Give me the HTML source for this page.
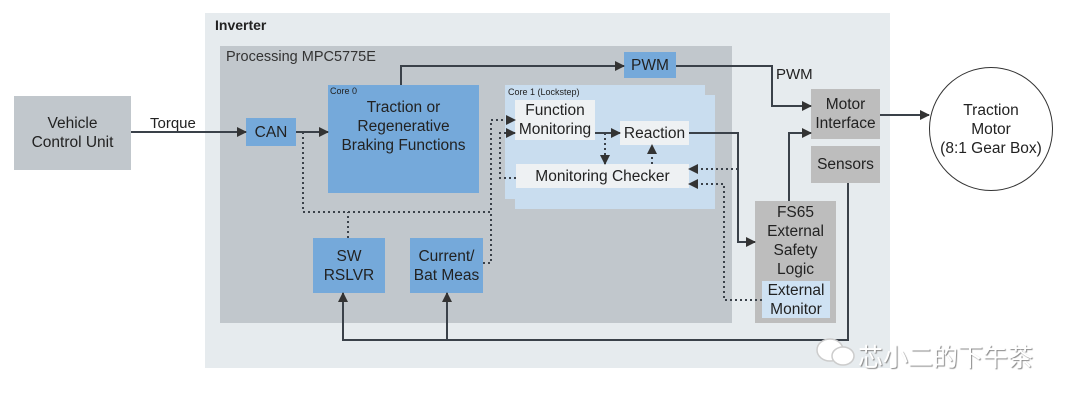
<!DOCTYPE html>
<html><head><meta charset="utf-8"><style>
body{margin:0;background:#fff;width:1080px;height:402px;position:relative;overflow:hidden;font-family:"Liberation Sans",Arial,sans-serif;color:#222}
.b{position:absolute;box-sizing:border-box;display:flex;align-items:center;justify-content:center;text-align:center;font-size:15.5px;line-height:19px}
</style></head><body>
<div class="b" style="left:205px;top:13px;width:685px;height:355px;background:#e6ebee"></div>
<div style="position:absolute;left:215px;top:17px;font-weight:bold;font-size:14px">Inverter</div>
<div class="b" style="left:220px;top:46px;width:512px;height:277px;background:#c1c7cc"></div>
<div style="position:absolute;left:226px;top:49px;font-size:14.5px;color:#333">Processing MPC5775E</div>
<div class="b" style="left:14px;top:96px;width:117px;height:74px;background:#c1c7cc">Vehicle<br>Control Unit</div>
<div class="b" style="left:246px;top:118px;width:50px;height:28px;background:#75a9da">CAN</div>
<div class="b" style="left:328px;top:85px;width:151px;height:108px;background:#75a9da;align-items:flex-start;padding-top:13px">Traction or<br>Regenerative<br>Braking Functions</div>
<div style="position:absolute;left:330px;top:86px;font-size:9px">Core 0</div>
<div class="b" style="left:313px;top:238px;width:72px;height:55px;background:#75a9da">SW<br>RSLVR</div>
<div class="b" style="left:410px;top:238px;width:73px;height:55px;background:#75a9da">Current/<br>Bat Meas</div>
<div class="b" style="left:624px;top:52px;width:52px;height:26px;background:#75a9da">PWM</div>
<div class="b" style="left:515px;top:95px;width:200px;height:114px;background:#c9ddef"></div>
<div class="b" style="left:505px;top:85px;width:200px;height:114px;background:#c9ddef"></div>
<div style="position:absolute;left:508px;top:87px;font-size:9px">Core 1 (Lockstep)</div>
<div class="b" style="left:515px;top:100px;width:80px;height:40px;background:#eef1f3">Function<br>Monitoring</div>
<div class="b" style="left:620px;top:121px;width:69px;height:24px;background:#eef1f3">Reaction</div>
<div class="b" style="left:516px;top:164px;width:173px;height:24px;background:#eef1f3">Monitoring Checker</div>
<div class="b" style="left:811px;top:89px;width:69px;height:50px;background:#bdbdbd">Motor<br>Interface</div>
<div class="b" style="left:811px;top:146px;width:69px;height:37px;background:#bdbdbd">Sensors</div>
<div class="b" style="left:755px;top:201px;width:81px;height:122px;background:#bdbdbd;align-items:flex-start;padding-top:2px">FS65<br>External<br>Safety<br>Logic</div>
<div class="b" style="left:762px;top:281px;width:68px;height:37px;background:#cfe2f3">External<br>Monitor</div>
<div class="b" style="left:929px;top:67px;width:124px;height:124px;border:1.5px solid #333;border-radius:50%;background:#fff">Traction<br>Motor<br>(8:1 Gear Box)</div>
<div style="position:absolute;left:150px;top:115px;font-size:15px">Torque</div>
<div style="position:absolute;left:776px;top:66px;font-size:15px">PWM</div>
<svg width="1080" height="402" style="position:absolute;left:0;top:0">
<defs><marker id="a" markerWidth="10" markerHeight="10" refX="9" refY="5" orient="auto" markerUnits="userSpaceOnUse"><path d="M0,0L10,5L0,10z" fill="#333"/></marker></defs>
<g fill="none" stroke="#3a4149" stroke-width="2" marker-end="url(#a)">
<path d="M131,132H246"/><path d="M296,132H328"/>
<path d="M401,85V66H624"/><path d="M676,66H772V106H811"/>
<path d="M689,133H738V242H755"/><path d="M789,201V133H811"/>
<path d="M880,115H929"/><path d="M595,133H620"/>
<path d="M848,183V340H343V293"/><path d="M447,340V293"/>
</g>
<g fill="none" stroke="#3a4149" stroke-width="2" stroke-dasharray="2,3" marker-end="url(#a)">
<path d="M303,132V212H491V120H515"/><path d="M348,238V212" marker-end="none"/>
<path d="M483,263H491V212" marker-end="none"/>
<path d="M516,178H500V133H515"/>
<path d="M605,133V164"/><path d="M652,164V145"/>
<path d="M738,169H689"/><path d="M762,300H724V184H689"/>
</g>
<g fill="#fff" stroke="#ccc" stroke-width="1.5">
<ellipse cx="830" cy="350" rx="13" ry="11"/><ellipse cx="843" cy="356" rx="11" ry="9"/>
</g>
</svg>
<div style="position:absolute;left:858px;top:338px;font-size:25px;color:#fff;text-shadow:1px 1px 1px #888;font-family:'Liberation Sans','Noto Sans CJK SC',sans-serif">芯小二的下午茶</div>
</body></html>
